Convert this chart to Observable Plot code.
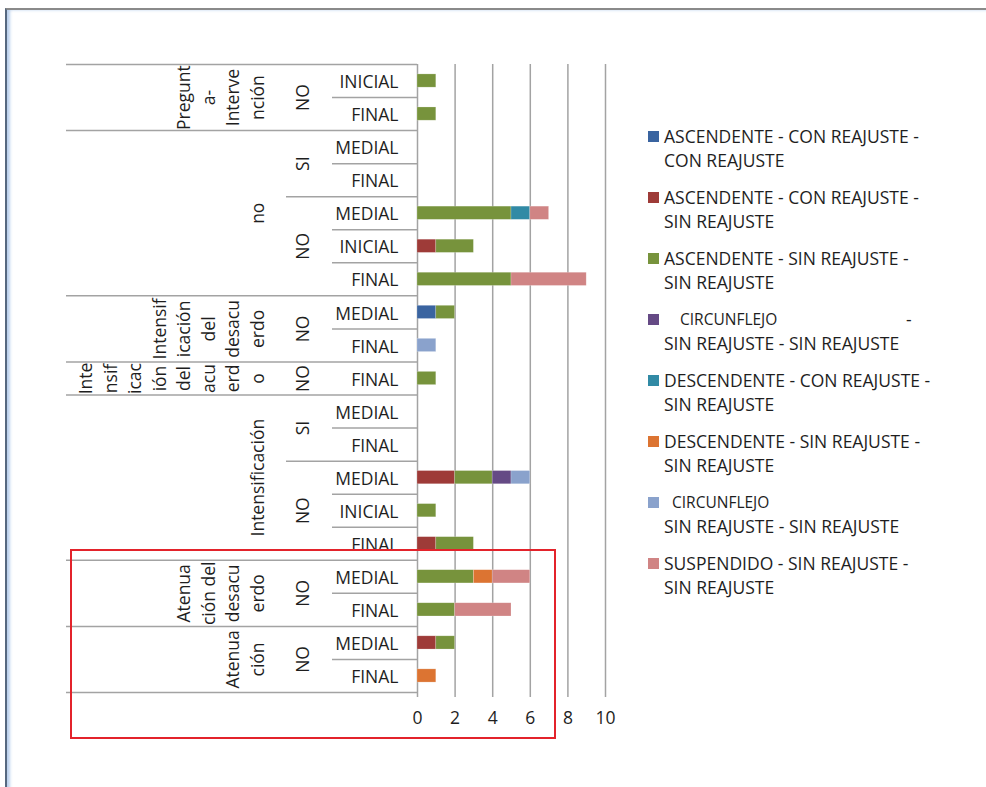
<!DOCTYPE html>
<html>
<head>
<meta charset="utf-8">
<script src="https://cdn.jsdelivr.net/npm/d3@7"></script>
<script src="https://cdn.jsdelivr.net/npm/@observablehq/plot@0.6"></script>
<style>
  body { margin: 0; background: #fff; font-family: "Open Sans", sans-serif; }
  #page { position: relative; width: 986px; height: 787px; overflow: hidden; background: #fff; }
  #page svg { position: absolute; left: 0; top: 0; }
  .frame { position: absolute; left: 5px; top: 8px; right: -20px; bottom: -20px;
           border-top: 2px solid #8a8a8a; border-left: 2px solid #56687f;
           box-shadow: inset 3px 0 3px rgba(130, 170, 220, 0.55); pointer-events: none; }
  .legend { position: absolute; left: 648px; top: 0; color: #1e1e1e; font-size: 17.5px; line-height: 24px; }
  .item { position: absolute; left: 0; width: 300px; white-space: nowrap; }
  .swatch { position: absolute; left: 0; top: 7px; width: 11px; height: 11px; }
  .label { position: absolute; left: 16px; top: 0; }
  .small { font-size: 15.5px; }
  .highlight { position: absolute; left: 70px; top: 549px; width: 482px; height: 186px;
               border: 2.5px solid #e3232b; pointer-events: none; }
</style>
</head>
<body>
<div id="page"><div class="frame"></div></div>
<script>
// Row categories, top to bottom: group, sub-group (SI / NO) and phase
const level1 = [
  "Pregunta-Intervención", "Pregunta-Intervención",
  "no", "no", "no", "no", "no",
  "Intensificación del desacuerdo", "Intensificación del desacuerdo",
  "Intensificación del acuerdo",
  "Intensificación", "Intensificación", "Intensificación", "Intensificación", "Intensificación",
  "Atenuación del desacuerdo", "Atenuación del desacuerdo",
  "Atenuación", "Atenuación"
];
const level2 = ["NO", "NO", "SI", "SI", "NO", "NO", "NO", "NO", "NO", "NO",
                "SI", "SI", "NO", "NO", "NO", "NO", "NO", "NO", "NO"];
const phases = ["INICIAL", "FINAL", "MEDIAL", "FINAL", "MEDIAL", "INICIAL", "FINAL",
                "MEDIAL", "FINAL", "FINAL", "MEDIAL", "FINAL", "MEDIAL", "INICIAL",
                "FINAL", "MEDIAL", "FINAL", "MEDIAL", "FINAL"];

// Group labels as they wrap in their narrow column
const level1Wrapped = {
  "Pregunta-Intervención": "Pregunt\na-\nInterve\nnción",
  "no": "no",
  "Intensificación del desacuerdo": "Intensif\nicación\ndel\ndesacu\nerdo",
  "Intensificación del acuerdo": "Inte\nnsif\nicac\nión\ndel\nacu\nerd\no",
  "Intensificación": "Intensificación",
  "Atenuación del desacuerdo": "Atenua\nción del\ndesacu\nerdo",
  "Atenuación": "Atenua\nción"
};

// Series (stacking order) and colours
const seriesNames = [
  "ASCENDENTE - CON REAJUSTE - CON REAJUSTE",
  "ASCENDENTE - CON REAJUSTE - SIN REAJUSTE",
  "ASCENDENTE - SIN REAJUSTE - SIN REAJUSTE",
  "CIRCUNFLEJO - SIN REAJUSTE - SIN REAJUSTE",
  "DESCENDENTE - CON REAJUSTE - SIN REAJUSTE",
  "DESCENDENTE - SIN REAJUSTE - SIN REAJUSTE",
  "CIRCUNFLEJO SIN REAJUSTE - SIN REAJUSTE",
  "SUSPENDIDO - SIN REAJUSTE - SIN REAJUSTE"
];
const seriesColors = ["#3a64a0", "#9e3b38", "#77933c", "#654a85",
                      "#318aa5", "#dc7432", "#8aa2cc", "#d08484"];

// Counts per row (same order as the categories)
const ascConCon   = [0, 0, 0, 0, 0, 0, 0, 1, 0, 0, 0, 0, 0, 0, 0, 0, 0, 0, 0];
const ascConSin   = [0, 0, 0, 0, 0, 1, 0, 0, 0, 0, 0, 0, 2, 0, 1, 0, 0, 1, 0];
const ascSinSin   = [1, 1, 0, 0, 5, 2, 5, 1, 0, 1, 0, 0, 2, 1, 2, 3, 2, 1, 0];
const circSinSin  = [0, 0, 0, 0, 0, 0, 0, 0, 0, 0, 0, 0, 1, 0, 0, 0, 0, 0, 0];
const descConSin  = [0, 0, 0, 0, 1, 0, 0, 0, 0, 0, 0, 0, 0, 0, 0, 0, 0, 0, 0];
const descSinSin  = [0, 0, 0, 0, 0, 0, 0, 0, 0, 0, 0, 0, 0, 0, 0, 1, 0, 0, 1];
const circ2SinSin = [0, 0, 0, 0, 0, 0, 0, 0, 1, 0, 0, 0, 1, 0, 0, 0, 0, 0, 0];
const suspSinSin  = [0, 0, 0, 0, 1, 0, 4, 0, 0, 0, 0, 0, 0, 0, 0, 2, 3, 0, 0];
const seriesValues = [ascConCon, ascConSin, ascSinSin, circSinSin,
                      descConSin, descSinSin, circ2SinSin, suspSinSin];

const xTicks = [0, 2, 4, 6, 8, 10];

// Legend text, two lines per entry
const legendLine1 = [
  "ASCENDENTE - CON REAJUSTE -", "ASCENDENTE - CON REAJUSTE -", "ASCENDENTE - SIN REAJUSTE -",
  "CIRCUNFLEJO", "DESCENDENTE - CON REAJUSTE -", "DESCENDENTE - SIN REAJUSTE -",
  "CIRCUNFLEJO", "SUSPENDIDO - SIN REAJUSTE -"
];
const legendLine2 = [
  "CON REAJUSTE", "SIN REAJUSTE", "SIN REAJUSTE", "SIN REAJUSTE - SIN REAJUSTE",
  "SIN REAJUSTE", "SIN REAJUSTE", "SIN REAJUSTE - SIN REAJUSTE", "SIN REAJUSTE"
];

// ---- derived tables ----
const n = phases.length;
const rowIndex = d3.range(n);

const segments = rowIndex.flatMap((row) => {
  let x = 0;
  return seriesNames.map((series, j) => {
    const x1 = x;
    x += seriesValues[j][row];
    return {row, series, x1, x2: x};
  }).filter((d) => d.x2 > d.x1);
});

function runs(keyOf) {
  const out = [];
  for (let i = 0; i < n; i++) {
    const key = keyOf(i);
    const last = out[out.length - 1];
    if (last && last.key === key) last.end = i;
    else out.push({key, start: i, end: i});
  }
  return out.map((g) => ({...g, center: (g.start + g.end) / 2}));
}
const groups1 = runs((i) => level1[i]).map((g) => ({...g, text: level1Wrapped[g.key]}));
const groups2 = runs((i) => level1[i] + "|" + level2[i]).map((g) => ({...g, text: level2[g.start]}));

// Row separators: full width between groups, shorter between sub-groups and phases
const bounds = d3.range(n + 1).map((k) => ({
  y: k - 0.5,
  level: (k === 0 || k === n || level1[k] !== level1[k - 1]) ? 1
       : (level2[k] !== level2[k - 1]) ? 2 : 3
}));

const lineColor = "#a3a3a3";
const frameWidth = 188;

const chart = Plot.plot({
  width: 986,
  height: 787,
  marginLeft: 417,
  marginRight: 381,
  marginTop: 64,
  marginBottom: 95,
  style: {fontFamily: '"Open Sans", sans-serif', fontSize: "17.5px", color: "#1e1e1e", background: "transparent"},
  x: {domain: [0, 10], ticks: xTicks, tickSize: 0, tickPadding: 19, label: null},
  y: {domain: [n - 0.5, -0.5], axis: null},
  color: {domain: seriesNames, range: seriesColors},
  marks: [
    Plot.ruleX(xTicks, {stroke: lineColor, strokeWidth: 1.5, insetBottom: -5}),
    Plot.ruleY(bounds.filter((b) => b.level === 1), {y: "y", stroke: lineColor, strokeWidth: 1.5, insetLeft: -351, insetRight: frameWidth}),
    Plot.ruleY(bounds.filter((b) => b.level === 2), {y: "y", stroke: lineColor, strokeWidth: 1.5, insetLeft: -131, insetRight: frameWidth}),
    Plot.ruleY(bounds.filter((b) => b.level === 3), {y: "y", stroke: lineColor, strokeWidth: 1.5, insetLeft: -85, insetRight: frameWidth}),
    Plot.rect(segments, {
      x1: "x1", x2: "x2",
      y1: (d) => d.row - 0.2, y2: (d) => d.row + 0.2,
      fill: "series", stroke: "#fff", strokeOpacity: 0.35, strokeWidth: 0.6
    }),
    Plot.text(rowIndex, {y: (i) => i, text: (i) => phases[i], frameAnchor: "left", dx: -19, dy: 1.5, textAnchor: "end"}),
    Plot.text(groups2, {y: "center", text: "text", rotate: -90, frameAnchor: "left", textAnchor: "middle", dx: -114}),
    Plot.text(groups1, {y: "center", text: "text", rotate: -90, frameAnchor: "left", textAnchor: "middle", dx: -154, lineAnchor: "bottom", lineHeight: 1.4})
  ]
});

const page = document.getElementById("page");
page.appendChild(chart);

// Legend built from the same series arrays
const legend = document.createElement("div");
legend.className = "legend";
seriesNames.forEach((name, i) => {
  const item = document.createElement("div");
  item.className = "item";
  item.style.top = (124 + 61 * i) + "px";
  const sw = document.createElement("div");
  sw.className = "swatch";
  sw.style.background = seriesColors[i];
  item.appendChild(sw);
  const label = document.createElement("div");
  label.className = "label";
  const first = document.createElement("div");
  if (legendLine1[i] === "CIRCUNFLEJO") {
    first.className = "small";
    first.style.paddingLeft = (i === 3 ? 16 : 8) + "px";
    first.style.position = "relative";
    first.textContent = legendLine1[i];
    if (i === 3) {
      const dash = document.createElement("span");
      dash.textContent = "-";
      dash.style.position = "absolute";
      dash.style.left = "242px";
      dash.style.fontSize = "17.5px";
      first.appendChild(dash);
    }
  } else {
    first.textContent = legendLine1[i];
  }
  const second = document.createElement("div");
  second.textContent = legendLine2[i];
  label.appendChild(first);
  label.appendChild(second);
  item.appendChild(label);
  legend.appendChild(item);
});
page.appendChild(legend);

const box = document.createElement("div");
box.className = "highlight";
page.appendChild(box);
</script>
</body>
</html>
